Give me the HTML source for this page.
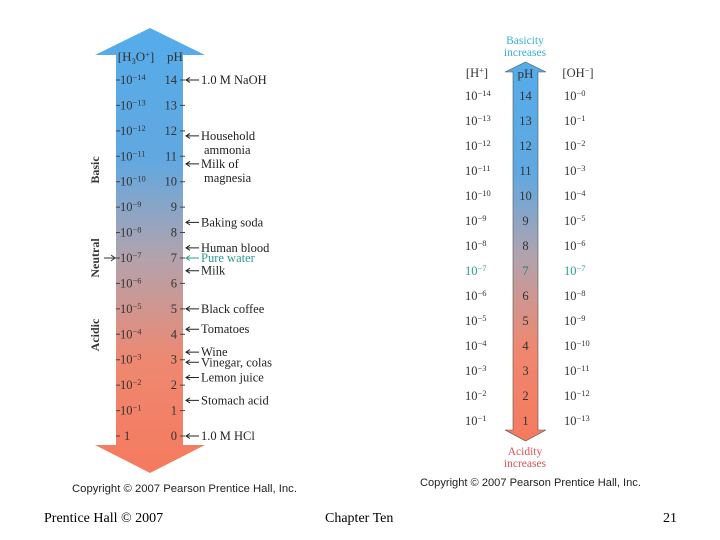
<!DOCTYPE html>
<html><head><meta charset="utf-8"><style>
body{margin:0;background:#fff;width:720px;height:540px;overflow:hidden}
svg{display:block;font-family:"Liberation Serif",serif}
</style></head><body>
<svg id="c" width="720" height="540" viewBox="0 0 720 540">
<defs>
<linearGradient id="gL" x1="0" y1="28" x2="0" y2="473" gradientUnits="userSpaceOnUse">
<stop offset="0" stop-color="#54acea"/><stop offset="0.3" stop-color="#62a8e0"/><stop offset="0.52" stop-color="#b4a2ac"/><stop offset="0.75" stop-color="#ee8870"/><stop offset="1" stop-color="#f57a5e"/></linearGradient>
<linearGradient id="gR" x1="0" y1="62" x2="0" y2="441" gradientUnits="userSpaceOnUse">
<stop offset="0" stop-color="#54acea"/><stop offset="0.3" stop-color="#62a8e0"/><stop offset="0.52" stop-color="#b4a2ac"/><stop offset="0.75" stop-color="#ee8870"/><stop offset="1" stop-color="#f57a5e"/></linearGradient>
</defs>
<path d="M150 28 L205 55 L183 55 L183 445 L205 445 L150 473 L95 445 L116 445 L116 55 L95 55 Z" fill="url(#gL)"/>
<path d="M525.5 62 L546 72 L538 72 L538 430 L546 430 L525.5 441 L505 430 L513 430 L513 72 L505 72 Z" fill="url(#gR)" stroke="#555" stroke-width="0.6"/>
<g id="L" font-size="12.5" fill="#333"></g>
<g id="R" font-size="12.5" fill="#333"></g>
<text x="136" y="61" font-size="13" text-anchor="middle" fill="#333">[H<tspan font-size="8.5" dy="3">3</tspan><tspan dy="-3">O</tspan><tspan font-size="8.5" dy="-4">+</tspan><tspan dy="4">]</tspan></text>
<text x="175" y="61" font-size="13" text-anchor="middle" fill="#333">pH</text>
<text x="477" y="77" font-size="12.5" text-anchor="middle" fill="#333">[H<tspan font-size="8.5" dy="-4">+</tspan><tspan dy="4">]</tspan></text>
<text x="525.5" y="78" font-size="13" text-anchor="middle" fill="#333">pH</text>
<text x="578" y="77" font-size="12.5" text-anchor="middle" fill="#333">[OH<tspan font-size="8.5" dy="-4">−</tspan><tspan dy="4">]</tspan></text>
<text x="525" y="44" font-size="11.5" text-anchor="middle" fill="#3bb0d0">Basicity</text>
<text x="525" y="56" font-size="11.5" text-anchor="middle" fill="#3bb0d0">increases</text>
<text x="525" y="455" font-size="11.5" text-anchor="middle" fill="#d8545a">Acidity</text>
<text x="525" y="467" font-size="11.5" text-anchor="middle" fill="#d8545a">increases</text>
<text transform="translate(99,170) rotate(-90)" font-size="12" font-weight="bold" text-anchor="middle" fill="#333">Basic</text>
<text transform="translate(99,258) rotate(-90)" font-size="12" font-weight="bold" text-anchor="middle" fill="#333">Neutral</text>
<text transform="translate(99,335) rotate(-90)" font-size="12" font-weight="bold" text-anchor="middle" fill="#333">Acidic</text>
<path d="M104 258 L116 258 M111 255 L115 258 L111 261" stroke="#333" fill="none" stroke-width="1"/>
<g font-family="Liberation Sans,sans-serif" fill="#222">
<text x="72" y="492" font-size="11.3">Copyright © 2007 Pearson Prentice Hall, Inc.</text>
<text x="420" y="486" font-size="11.1">Copyright © 2007 Pearson Prentice Hall, Inc.</text>
</g>
<g font-size="14" fill="#000">
<text x="44" y="522">Prentice Hall © 2007</text>
<text x="325" y="522">Chapter Ten</text>
<text x="677" y="522" text-anchor="end">21</text>
</g>
</svg>
<script>
const phLeft=[14,13,12,11,10,9,8,7,6,5,4,3,2,1,0];
const phRight=[14,13,12,11,10,9,8,7,6,5,4,3,2,1];
const substances=["1.0 M NaOH","Household|ammonia","Milk of|magnesia","Baking soda","Human blood","Pure water","Milk","Black coffee","Tomatoes","Wine","Vinegar, colas","Lemon juice","Stomach acid","1.0 M HCl"];
const substancePH=[14,11.8,10.7,8.4,7.4,7,6.5,5,4.2,3.3,2.9,2.3,1.4,0];
const NS='http://www.w3.org/2000/svg';
const yL=p=>436-p*25.43, yR=p=>446-p*25;
function mk(tag,attrs,txt,parent){const e=document.createElementNS(NS,tag);for(const k in attrs)e.setAttribute(k,attrs[k]);if(txt!=null)e.innerHTML=txt;parent.appendChild(e);return e;}
function pow(n,forceExp){if(n===0&&!forceExp)return '1';return '10<tspan font-size="8.5" dy="-4">'+(n<=0?'−':'')+Math.abs(n)+'</tspan>';}
const L=document.getElementById('L'),R=document.getElementById('R');
phLeft.forEach(p=>{const y=yL(p);
 const a=mk('text',{x:p===0?124:120,y:y+4},pow(-p),L);
 const b=mk('text',{x:177,y:y+4,'text-anchor':'end'},String(p),L);
 const t=mk('path',{d:`M116 ${y} L120 ${y} M180 ${y} L185 ${y}`,stroke:'#444','stroke-width':1},null,L);
});
substances.forEach((s,i)=>{const y=yL(substancePH[i]);const col=s==='Pure water'?'#2a9d8f':'#222';
 const ar=mk('path',{d:`M186 ${y} L199 ${y} M190 ${y-2.5} L186 ${y} L190 ${y+2.5}`,stroke:col,fill:'none','stroke-width':1},null,L);
 const parts=s.split('|');
 const tx=mk('text',{x:201,y:y+4,fill:col},parts[0],L);
 if(parts[1]){const t2=mk('text',{x:204,y:y+18,fill:col},parts[1],L);}
});
phRight.forEach(p=>{const y=yR(p);const col=p===7?'#2a9d8f':'#333';
 const a=mk('text',{x:465,y:y+4,fill:col},pow(-p),R);
 const b=mk('text',{x:525.5,y:y+4,'text-anchor':'middle',fill:p===7?'#2a7d70':'#333'},String(p),R);
 const c=mk('text',{x:564,y:y+4,fill:col},pow(p-14,true),R);
});
</script>
</body></html>
